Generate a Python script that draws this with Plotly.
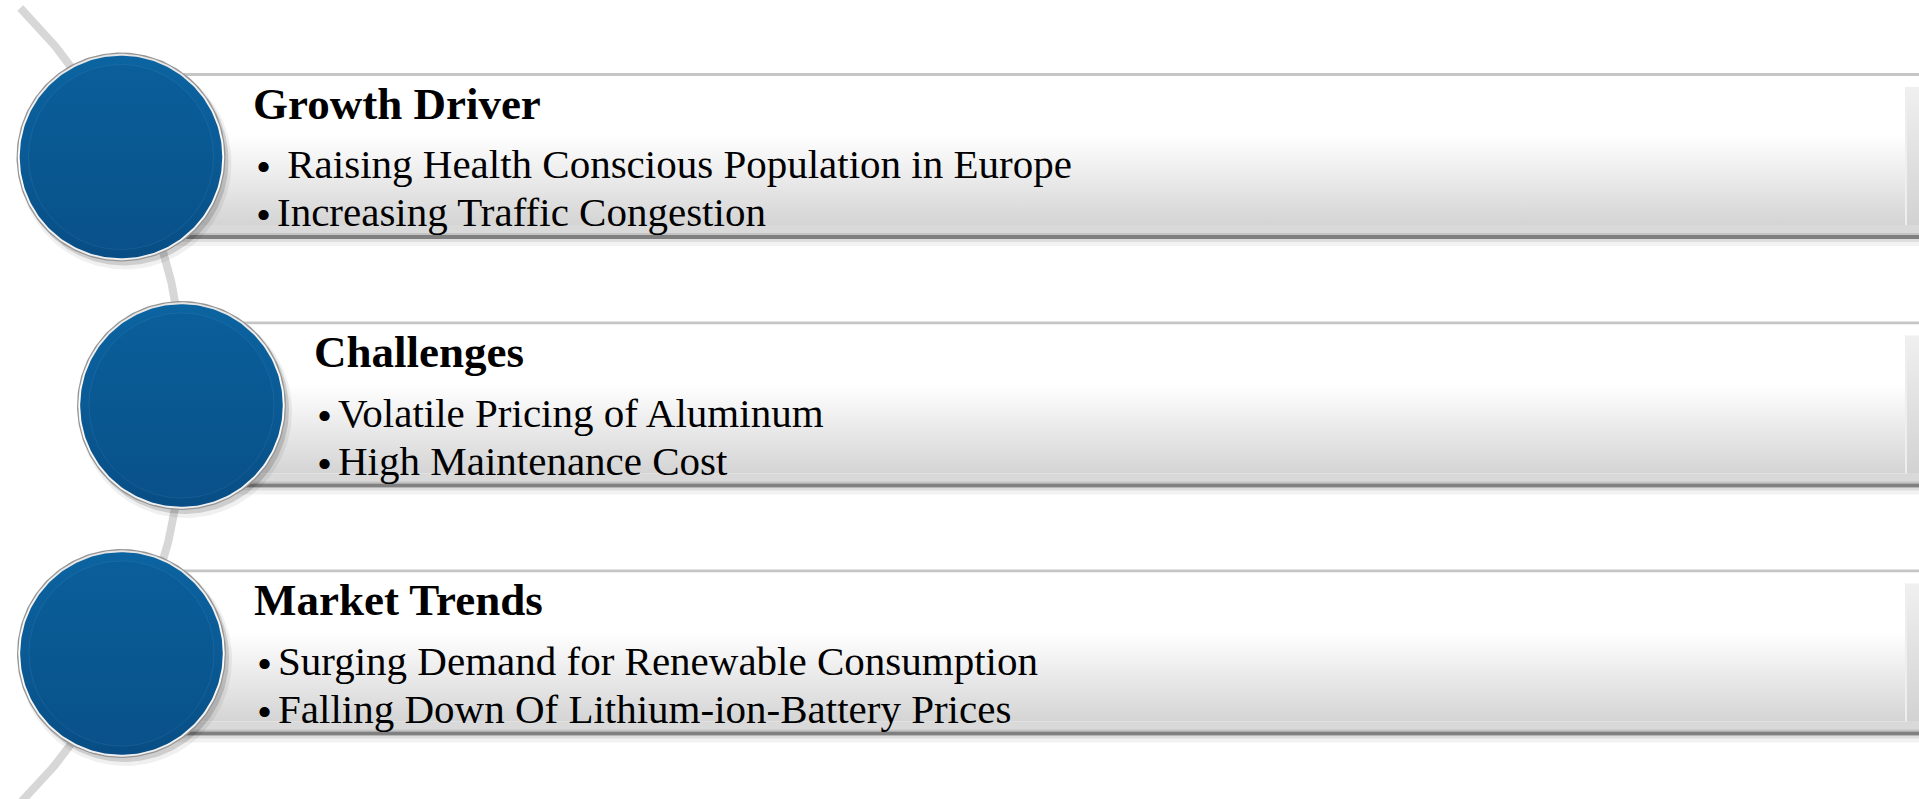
import numpy as np
import plotly.graph_objects as go

# ---------------- data (text content) ----------------
titles = ["Growth Driver", "Challenges", "Market Trends"]
bullets_growth = ["• Raising Health Conscious Population in Europe",
                  "•Increasing Traffic Congestion"]
bullets_challenges = ["•Volatile Pricing of Aluminum",
                      "•High Maintenance Cost"]
bullets_trends = ["•Surging Demand for Renewable Consumption",
                  "•Falling Down Of Lithium-ion-Battery Prices"]
bullet_groups = [bullets_growth, bullets_challenges, bullets_trends]

# ---------------- layout constants ----------------
W, H = 1919, 799
circle_cx = [121.0, 181.5, 121.5]
circle_cy = [157.0, 405.5, 653.5]
R_CIRCLE = 104.5
arc_cx, arc_cy, arc_r = -377.0, 405.5, 562.0
FONT = "Liberation Serif"
TITLE_SIZE, BODY_SIZE, BULLET_SIZE = 45, 41, 43

fig = go.Figure()


def add_poly(xs, ys, color=None, gradient=None, line_color=None, line_width=0):
    kw = dict(x=list(xs), y=list(ys), mode="lines", fill="toself",
              hoverinfo="skip", showlegend=False,
              line=dict(width=line_width, color=line_color or "rgba(0,0,0,0)"))
    if gradient is not None:
        kw["fillgradient"] = gradient
    else:
        kw["fillcolor"] = color
    fig.add_trace(go.Scatter(**kw))


def rect(x0, x1, y0, y1, **kw):
    add_poly([x0, x1, x1, x0, x0], [y0, y0, y1, y1, y0], **kw)


def circ(cx, cy, r, n=240, **kw):
    t = np.linspace(0, 2 * np.pi, n)
    add_poly(cx + r * np.cos(t), cy + r * np.sin(t), **kw)


# ---------------- background arc ----------------
ys_arc = np.linspace(8, 805, 200)
xs_arc = arc_cx + np.sqrt(arc_r ** 2 - (ys_arc - arc_cy) ** 2)
fig.add_trace(go.Scatter(x=xs_arc, y=ys_arc, mode="lines", hoverinfo="skip",
                         showlegend=False,
                         line=dict(color="#d7d7d7", width=8)))

# ---------------- bars ----------------
for i in range(3):
    cx, cy = circle_cx[i], circle_cy[i]
    T = cy - 83.0
    L = cx
    Rr = W + 5
    rect(L, Rr, T + 165, T + 168, color="rgba(0,0,0,0.13)")
    rect(L, Rr, T + 168, T + 172, color="rgba(0,0,0,0.05)")
    rect(L, Rr, T - 1, T + 2, color="#c6c6c6")
    rect(L, Rr, T + 2, T + 151,
         gradient=dict(type="vertical", start=T + 2, stop=T + 151,
                       colorscale=[[0, "#ffffff"], [0.4, "#ffffff"],
                                   [0.75, "#e6e6e6"], [1, "#d4d4d4"]]))
    rect(L, Rr, T + 151, T + 161, color="#d9d9d9")
    rect(L, Rr, T + 159, T + 161, color="#c4c4c4")
    rect(L, Rr, T + 161, T + 165, color="#808080")
    rect(1905, Rr, T + 13, T + 151,
         gradient=dict(type="vertical", start=T + 13, stop=T + 151,
                       colorscale=[[0, "#f0f0f0"], [1, "#d2d2d2"]]))
    rect(1905, 1907, T + 13, T + 151, color="#eeeeee")

# ---------------- circles ----------------
for i in range(3):
    cx, cy = circle_cx[i], circle_cy[i]
    circ(cx + 4, cy + 6, R_CIRCLE + 2, color="rgba(0,0,0,0.06)")
    circ(cx + 3, cy + 4, R_CIRCLE, color="rgba(0,0,0,0.14)")
    circ(cx, cy, R_CIRCLE, color="#959595")
    circ(cx, cy, R_CIRCLE - 1.3,
         gradient=dict(type="vertical", start=cy - R_CIRCLE, stop=cy + R_CIRCLE,
                       colorscale=[[0, "#e4e4e4"], [0.5, "#ffffff"], [1, "#eeeeee"]]))
    circ(cx, cy, R_CIRCLE - 3.2,
         gradient=dict(type="vertical", start=cy - R_CIRCLE, stop=cy + R_CIRCLE,
                       colorscale=[[0, "#0b64a1"], [0.5, "#0a5a95"], [1, "#084d84"]]))
    circ(cx, cy, R_CIRCLE - 12,
         gradient=dict(type="vertical", start=cy - R_CIRCLE, stop=cy + R_CIRCLE,
                       colorscale=[[0, "#0a5f9b"], [0.5, "#095892"], [1, "#095088"]]),
         line_color="rgba(130,175,215,0.12)", line_width=1)

# ---------------- texts ----------------
annotations = []
title_off, line_offs = 45.0, [104.0, 152.0]
for i in range(3):
    cx, cy = circle_cx[i], circle_cy[i]
    T = cy - 83.0
    annotations.append(dict(
        x=cx + 132, y=T + title_off - 0.3375 * TITLE_SIZE, xref="x", yref="y",
        text=titles[i], showarrow=False, xanchor="left", yanchor="middle",
        borderpad=0, borderwidth=0,
        font=dict(family=FONT, size=TITLE_SIZE, color="#000000", weight="bold")))
    for j, line in enumerate(bullet_groups[i]):
        base = T + line_offs[j]
        bullet, rest = line[0], line[1:]
        annotations.append(dict(
            x=cx + 142.5, y=base - 11.5, xref="x", yref="y",
            text=bullet, showarrow=False, xanchor="center", yanchor="middle",
            borderpad=0, borderwidth=0,
            font=dict(family=FONT, size=BULLET_SIZE, color="#000000")))
        annotations.append(dict(
            x=cx + 156, y=base - 0.3375 * BODY_SIZE, xref="x", yref="y",
            text=rest, showarrow=False, xanchor="left", yanchor="middle",
            borderpad=0, borderwidth=0,
            font=dict(family=FONT, size=BODY_SIZE, color="#000000")))

fig.update_layout(
    width=W, height=H,
    margin=dict(l=0, r=0, t=0, b=0, pad=0),
    paper_bgcolor="#ffffff", plot_bgcolor="#ffffff",
    xaxis=dict(range=[0, W], visible=False, fixedrange=True),
    yaxis=dict(range=[H, 0], visible=False, fixedrange=True),
    annotations=annotations,
    showlegend=False,
)

fig.write_html("out.html", config={"displayModeBar": False},
               post_script="document.body.style.margin='0';document.body.style.overflow='hidden';")
